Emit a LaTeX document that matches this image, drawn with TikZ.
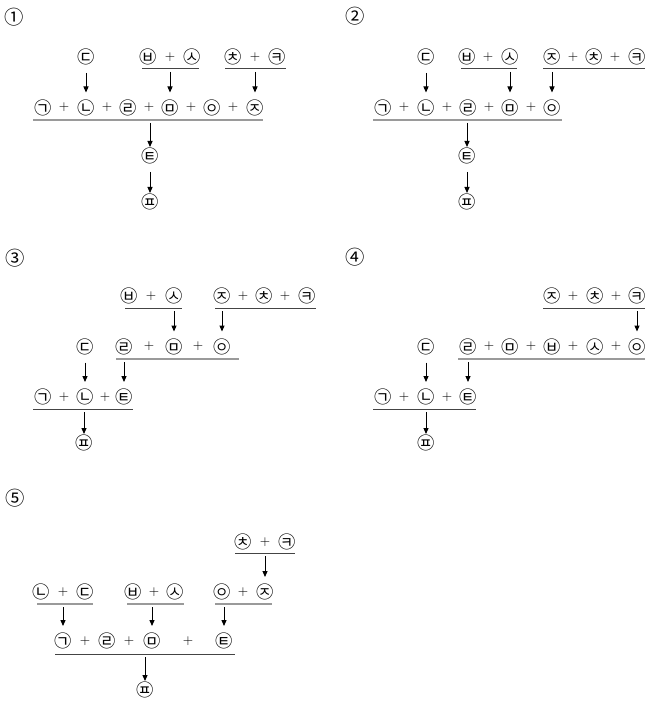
\documentclass[tikz,border=0pt]{standalone}
\usepackage{fontspec}
\newfontfamily\kfont{Noto Sans CJK KR}
\usetikzlibrary{arrows.meta}
\definecolor{bardark}{HTML}{444444}
\definecolor{barlight}{HTML}{9A9A9A}
\newcommand\plus{\raisebox{2.44pt}{\fontsize{10}{12}\selectfont$+$}}
\tikzset{
    term/.style   = {font=\kfont\fontsize{13}{15}\selectfont, inner sep=0pt,
                     text height=11.44pt, text depth=1.56pt},
    num/.style    = {font=\kfont\fontsize{14.5}{17}\selectfont, inner sep=0pt},
    upper/.style  = {draw=bardark, line width=0.75pt},
    lower/.style  = {draw=barlight, line width=1.5pt},
    drop/.style   = {-{Triangle[length=4.5pt, width=3.8pt]}, line width=0.75pt,
                     shorten <=2.25pt, shorten >=11.25pt},
    from glyph/.style = {shorten <=12pt},
    to last/.style    = {shorten >=6.75pt}
}

\begin{document}
\begin{tikzpicture}[x=0.75pt, y=-0.75pt]
\useasboundingbox (0,0) rectangle (645,702);

% (1) one sum line
\node[num] (A) at (14,17) {①};
\node[term] (A-d) at (86,57) {㉢};
\foreach \n/\x/\t in {b/148/㉥, bs/170/\plus, s/192/㉦, c/233/㉩, ck/255/\plus, k/277/㉪}
    \node[term] (A-\n) at (\x,57) {\t};
\foreach \n/\x/\t in {g/43/㉠, gn/64/\plus, n/86/㉡, nr/107/\plus, r/128/㉣, rm/149/\plus,
                      m/170/㉤, mo/191/\plus, o/212/㉧, oj/233/\plus, j/255/㉨}
    \node[term] (A-\n) at (\x,107.5) {\t};
\node[term] (A-t) at (150,156) {㉫};
\node[term] (A-p) at (150,202) {㉬};
\draw[upper] (142,69) coordinate (A-u1) -- (199,69);
\draw[upper] (225,69) coordinate (A-u2) -- (286,69);
\draw[lower] (33,120) coordinate (A-u3) -- (263,120);
\draw[drop, from glyph] (A-d.center) -- (A-n.center);
\draw[drop] (A-m |- A-u1) -- (A-m.center);
\draw[drop] (A-j |- A-u2) -- (A-j.center);
\draw[drop, to last] (A-t |- A-u3) -- (A-t.center);
\draw[drop, from glyph, to last] (A-t.center) -- (A-p.center);

% (2) one sum line, three-term group on top
\node[num] (B) at (355,16) {②};
\node[term] (B-d) at (426,57) {㉢};
\foreach \n/\x/\t in {b/467/㉥, bs/488/\plus, s/510/㉦,
                      j/552/㉨, jc/573/\plus, c/594/㉩, ck/615/\plus, k/637/㉪}
    \node[term] (B-\n) at (\x,57) {\t};
\foreach \n/\x/\t in {g/383/㉠, gn/404/\plus, n/426/㉡, nr/447/\plus, r/468/㉣,
                      rm/489/\plus, m/510/㉤, mo/531/\plus, o/552/㉧}
    \node[term] (B-\n) at (\x,107.5) {\t};
\node[term] (B-t) at (467,156) {㉫};
\node[term] (B-p) at (467,202) {㉬};
\draw[upper] (461,69) coordinate (B-u1) -- (517,69);
\draw[upper] (543,69) coordinate (B-u2) -- (645,69);
\draw[lower] (373,120) coordinate (B-u3) -- (562,120);
\draw[drop, from glyph] (B-d.center) -- (B-n.center);
\draw[drop] (B-m |- B-u1) -- (B-m.center);
\draw[drop] (B-o |- B-u2) -- (B-o.center);
\draw[drop, to last] (B-t |- B-u3) -- (B-t.center);
\draw[drop, from glyph, to last] (B-t.center) -- (B-p.center);

% (3) two levels
\node[num] (C) at (15,258) {③};
\foreach \n/\x/\t in {b/129/㉥, bs/151/\plus, s/174/㉦,
                      j/222/㉨, jc/243/\plus, c/264/㉩, ck/285/\plus, k/307/㉪}
    \node[term] (C-\n) at (\x,296) {\t};
\foreach \n/\x/\t in {d/85/㉢, r/124/㉣, rm/149/\plus, m/174/㉤, mo/198/\plus, o/222/㉧}
    \node[term] (C-\n) at (\x,346.5) {\t};
\foreach \n/\x/\t in {g/43/㉠, gn/64/\plus, n/85/㉡, nt/105/\plus, t/124/㉫}
    \node[term] (C-\n) at (\x,397) {\t};
\node[term] (C-p) at (84,443) {㉬};
\draw[upper] (125,308) coordinate (C-u1) -- (182,308);
\draw[upper] (215,308) coordinate (C-u2) -- (316,308);
\draw[lower] (116,359) coordinate (C-u3) -- (239,359);
\draw[upper] (33,409) coordinate (C-u4) -- (133,409);
\draw[drop] (C-m |- C-u1) -- (C-m.center);
\draw[drop] (C-o |- C-u2) -- (C-o.center);
\draw[drop, from glyph] (C-d.center) -- (C-n.center);
\draw[drop] (C-t |- C-u3) -- (C-t.center);
\draw[drop, to last] (C-p |- C-u4) -- (C-p.center);

% (4) two levels, long middle line
\node[num] (D) at (355,257) {④};
\foreach \n/\x/\t in {j/552/㉨, jc/573/\plus, c/595/㉩, ck/616/\plus, k/637/㉪}
    \node[term] (D-\n) at (\x,296) {\t};
\foreach \n/\x/\t in {d/426/㉢, r/468/㉣, rm/489/\plus, m/510/㉤, mb/531/\plus, b/552/㉥,
                      bs/573/\plus, s/595/㉦, so/616/\plus, o/637/㉧}
    \node[term] (D-\n) at (\x,346.5) {\t};
\foreach \n/\x/\t in {g/383/㉠, gn/404/\plus, n/426/㉡, nt/447/\plus, t/468/㉫}
    \node[term] (D-\n) at (\x,397) {\t};
\node[term] (D-p) at (426,443) {㉬};
\draw[upper] (543,308) coordinate (D-u1) -- (645,308);
\draw[lower] (458,359) coordinate (D-u2) -- (645,359);
\draw[upper] (373,409) coordinate (D-u3) -- (476,409);
\draw[drop] (D-o |- D-u1) -- (D-o.center);
\draw[drop, from glyph] (D-d.center) -- (D-n.center);
\draw[drop] (D-t |- D-u2) -- (D-t.center);
\draw[drop, to last] (D-p |- D-u3) -- (D-p.center);

% (5) three pairs into one line
\node[num] (E) at (15,498) {⑤};
\foreach \n/\x/\t in {c/243/㉩, ck/265/\plus, k/287/㉪}
    \node[term] (E-\n) at (\x,542) {\t};
\foreach \n/\x/\t in {n/41/㉡, nd/63/\plus, d/85/㉢, b/133/㉥, bs/154/\plus, s/175/㉦,
                      o/222/㉧, oj/243/\plus, j/265/㉨}
    \node[term] (E-\n) at (\x,592) {\t};
\foreach \n/\x/\t in {g/63/㉠, gr/85/\plus, r/107/㉣, rm/129/\plus, m/152/㉤,
                      mt/188/\plus, t/224/㉫}
    \node[term] (E-\n) at (\x,641) {\t};
\node[term] (E-p) at (145,690) {㉬};
\draw[upper] (235,553) coordinate (E-u1) -- (295,553);
\draw[lower] (37,604) coordinate (E-u2) -- (93,604);
\draw[lower] (127,604) coordinate (E-u3) -- (184,604);
\draw[lower] (215,604) coordinate (E-u4) -- (272,604);
\draw[upper] (55,654) coordinate (E-u5) -- (235,654);
\draw[drop] (E-j |- E-u1) -- (E-j.center);
\draw[drop] (E-g |- E-u2) -- (E-g.center);
\draw[drop] (E-m |- E-u3) -- (E-m.center);
\draw[drop] (E-t |- E-u4) -- (E-t.center);
\draw[drop, to last] (E-p |- E-u5) -- (E-p.center);

\end{tikzpicture}
\end{document}
